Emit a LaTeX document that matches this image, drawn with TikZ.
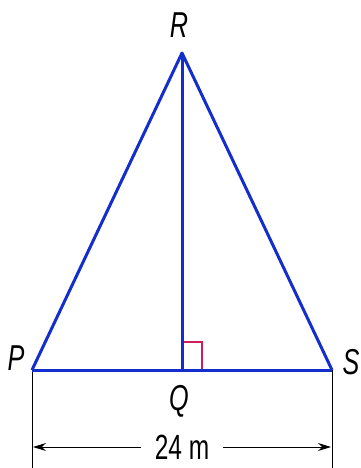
\documentclass[tikz,border=0pt]{standalone}
\usepackage{fontspec}
\setmainfont{Liberation Sans}
\newfontfamily\lblfont[FakeStretch=0.7]{Liberation Sans}
\usetikzlibrary{arrows.meta}
\definecolor{triblue}{RGB}{20,45,205}
\definecolor{markred}{RGB}{205,30,90}
\tikzset{
  side/.style={triblue, line width=3pt, line join=round},
  lbl/.style={font=\lblfont\fontsize{36}{36}\selectfont\itshape, inner sep=0pt},
  dimtext/.style={font=\lblfont\fontsize{35}{35}\selectfont, inner sep=0pt, fill=white},
  extline/.style={black, line width=1pt},
  dimline/.style={black, line width=1pt, {Stealth[length=13pt,width=8pt]}-{Stealth[length=13pt,width=8pt]}},
  rightmark/.style={markred, line width=1.3pt}
}
\begin{document}
\begin{tikzpicture}[x=1pt,y=-1pt]
\useasboundingbox (0,0) rectangle (360,468);
\coordinate (P) at (32,370);
\coordinate (Q) at (182,370);
\coordinate (R) at (182,53);
\coordinate (S) at (332,370);
\coordinate (Pb) at (32,468);
\coordinate (Sb) at (332,468);
\coordinate (Pd) at (33,447);
\coordinate (Sd) at (331,447);
% extension lines
\draw[extline] (P) -- (Pb);
\draw[extline] (S) -- (Sb);
% right angle mark
\draw[rightmark] (182,342) -- (202,342) -- (202,370);
% triangle
\draw[side] (P) -- (S);
\draw[side] (R) -- (Q);
\draw[side] (P) -- (R) -- (S);
% labels
\node[lbl] (lR) at (179,25) {R};
\node[lbl] (lP) at (16,358) {P};
\node[lbl] (lQ) at (179,401) {Q};
\node[lbl] (lS) at (351,362) {S};
% dimension
\draw[dimline] (Pd) -- node[dimtext, inner xsep=14pt] (dim) {24 m} (Sd);
\end{tikzpicture}
\end{document}
